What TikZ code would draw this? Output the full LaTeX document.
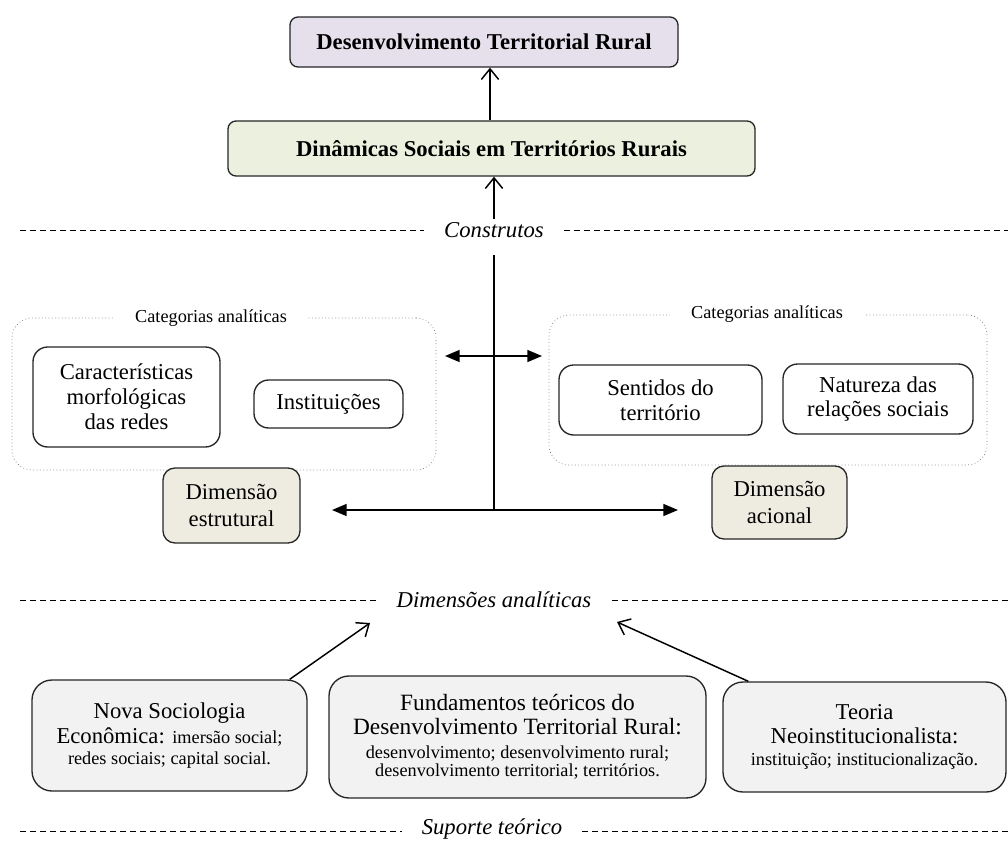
\documentclass[tikz,border=0pt]{standalone}
\usepackage{fontspec}
\setmainfont{Liberation Serif}
\usetikzlibrary{arrows.meta,calc}
\definecolor{lav}{HTML}{E5E0EC}
\definecolor{olv}{HTML}{EBF1DE}
\definecolor{tanc}{HTML}{EEECE1}
\definecolor{lgray}{HTML}{F2F2F2}
\newcommand\bigf{\fontsize{17}{18.6}\selectfont}
\newcommand\bigbf{\fontsize{17.5}{17.8}\selectfont}
\newcommand\smallf{\fontsize{13.7}{14.5}\selectfont}
\newcommand\titlef{\fontsize{17}{19}\selectfont\bfseries}
\begin{document}
\begin{tikzpicture}[x=0.75pt,y=-0.75pt,
  box/.style={draw=black!85, line width=1pt, align=center, inner sep=0pt},
  titlebox/.style={box, rounded corners=6pt, font=\titlef},
  catbox/.style={draw=black!60, line width=0.5pt, dotted, rounded corners=15pt},
  catlab/.style={fill=white, inner xsep=16pt, inner ysep=1pt, font=\smallf},
  cbox/.style={box, fill=white, rounded corners=11pt, font=\bigf},
  dimbox/.style={box, fill=tanc, rounded corners=9pt, font=\bigf},
  basebox/.style={box, fill=lgray, rounded corners=15pt, font=\bigf},
  lab/.style={font=\bigf\itshape, inner xsep=15pt, inner ysep=2pt},
  dashln/.style={line width=0.6pt, dash pattern=on 4.5pt off 3pt},
  openarr/.style={line width=1.1pt, -{Straight Barb[length=8pt,width=13pt]}},
  fillarr/.style={line width=1.1pt, {Triangle[length=11pt,width=9pt]}-{Triangle[length=11pt,width=9pt]}}
]
\useasboundingbox (0,0) rectangle (1008,843);

% top boxes
\node[titlebox, fill=lav, minimum width=291pt, minimum height=37.5pt] (top) at (484,42) {Desenvolvimento Territorial Rural};
\node[titlebox, fill=olv, minimum width=395.25pt, minimum height=41.25pt] (dyn) at (491.5,148.5) {Dinâmicas Sociais em Territórios Rurais};
\coordinate (ax) at (490,0);
\draw[openarr] (dyn.north -| ax) -- (top.south -| ax);

% Construtos
\node[lab] (cons) at (494,230) {Construtos};
\coordinate (consL) at (20,230);
\coordinate (consR) at (1008,230);
\draw[dashln] (consL) -- (cons.west);
\draw[dashln] (cons.east) -- (consR);
\draw[openarr] (cons.north) -- (dyn.south -| cons.north);

% category boxes
\node[catbox, minimum width=318pt, minimum height=114pt] (catL) at (224,394) {};
\node[catlab] (catLl) at (211,318) {Categorias analíticas};
\node[cbox, minimum width=140.25pt, minimum height=75pt] (carac) at (126.5,397) {Características\\morfológicas\\das redes};
\node[cbox, minimum width=111.75pt, minimum height=36pt] (inst) at (328.5,404) {Instituições};

\node[catbox, minimum width=328.5pt, minimum height=112.5pt] (catR) at (768,390) {};
\node[catlab] (catRl) at (767,314) {Categorias analíticas};
\node[cbox, minimum width=152.25pt, minimum height=52.5pt] (sent) at (660.5,400) {Sentidos do\\território};
\node[cbox, minimum width=142.5pt, minimum height=52.5pt] (nat) at (878,399) {Natureza das\\relações sociais};

\node[dimbox, minimum width=102.75pt, minimum height=56.25pt] (dimE) at (231.5,505.5) {Dimensão\\[1pt]estrutural};
\node[dimbox, minimum width=101.25pt, minimum height=54.75pt] (dimA) at (779.5,502.5) {Dimensão\\[1pt]acional};

% T connector
\coordinate (vtop) at (494,255);
\coordinate (hl) at (332,510);
\coordinate (hr) at (678,510);
\coordinate (dl) at (445,356);
\coordinate (dr) at (542,356);
\draw[line width=1.1pt] (vtop) -- (vtop |- hl);
\draw[fillarr] (hl) -- (hr);
\draw[fillarr] (dl) -- (dr);

% Dimensões analíticas
\node[lab] (dima) at (494,600) {Dimensões analíticas};
\coordinate (dimaL) at (20,600);
\coordinate (dimaR) at (1008,600);
\draw[dashln] (dimaL) -- (dima.west);
\draw[dashln] (dima.east) -- (dimaR);

% bottom boxes
\node[basebox, minimum width=206.25pt, minimum height=83.25pt] (A) at (169.5,735.5)
  {Nova Sociologia\\Econômica: {\smallf imersão social;}\\[-2.6pt]{\smallf redes sociais; capital social.}};
\node[basebox, font=\bigbf, minimum width=282.75pt, minimum height=91.5pt] (B) at (517.5,737)
  {Fundamentos teóricos do\\Desenvolvimento Territorial Rural:\\{\smallf desenvolvimento; desenvolvimento rural;}\\[-4pt]{\smallf desenvolvimento territorial; territórios.}};
\node[basebox, minimum width=212.25pt, minimum height=82.5pt] (C) at (864.5,737)
  {Teoria\\Neoinstitucionalista:\\[-2.1pt]{\smallf instituição; institucionalização.}};

\coordinate (aT) at (370,623);
\coordinate (cT) at (617,622);
\draw[openarr] ($(A.north east)+(-18,0)$) -- (aT);
\draw[openarr] ($(C.north west)+(26,0)$) -- (cT);

% Suporte teórico
\node[lab] (sup) at (492,829) {Suporte teórico};
\coordinate (supL) at (20,831);
\coordinate (supR) at (1008,831);
\draw[dashln] (supL) -- (sup.west |- supL);
\draw[dashln] (sup.east |- supR) -- (supR);
\end{tikzpicture}
\end{document}
